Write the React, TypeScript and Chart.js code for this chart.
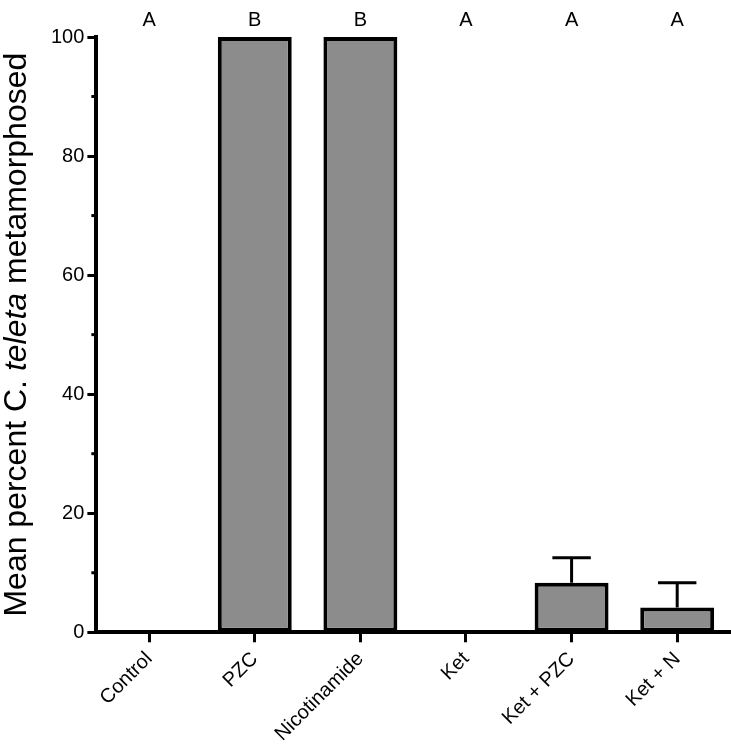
import React, { useEffect, useRef } from "react";
import { Chart, registerables } from "chart.js";

Chart.register(...registerables);

const categories = ["Control", "PZC", "Nicotinamide", "Ket", "Ket + PZC", "Ket + N"];
const meanPercent = [0, 100, 100, 0, 8.33, 4.17];
const semPercent = [0, 0, 0, 0, 4.17, 4.17];
const groupLetters = ["A", "B", "B", "A", "A", "A"];
const yMinorTicks = [10, 30, 50, 70, 90];
const yTitleParts = [
  { text: "Mean percent C. ", italic: false },
  { text: "teleta", italic: true },
  { text: " metamorphosed", italic: false },
];

const FONT = "'Liberation Sans', Arial, Helvetica, sans-serif";

const decorPlugin = {
  id: "decor",
  afterDatasetsDraw(chart: any) {
    const ctx = chart.ctx;
    const xs = chart.scales.x;
    const ys = chart.scales.y;
    const meta = chart.getDatasetMeta(0);
    ctx.save();
    ctx.strokeStyle = "#000";
    ctx.lineWidth = 3;
    meanPercent.forEach((m, i) => {
      const s = semPercent[i];
      if (!s) return;
      const px = xs.getPixelForValue(i);
      const y0 = ys.getPixelForValue(m);
      const y1 = ys.getPixelForValue(m + s);
      const half = meta.data[i].width * 0.26;
      ctx.beginPath();
      ctx.moveTo(px, y0);
      ctx.lineTo(px, y1);
      ctx.moveTo(px - half, y1);
      ctx.lineTo(px + half, y1);
      ctx.stroke();
    });
    ctx.restore();
  },
  afterDraw(chart: any) {
    const ctx = chart.ctx;
    const xs = chart.scales.x;
    const ys = chart.scales.y;
    const area = chart.chartArea;
    ctx.save();
    // minor ticks
    ctx.strokeStyle = "#000";
    ctx.lineWidth = 3;
    yMinorTicks.forEach((v) => {
      const py = ys.getPixelForValue(v);
      ctx.beginPath();
      ctx.moveTo(area.left - 5, py);
      ctx.lineTo(area.left, py);
      ctx.stroke();
    });
    // group letters
    ctx.fillStyle = "#000";
    ctx.font = `20px ${FONT}`;
    ctx.textAlign = "center";
    ctx.textBaseline = "alphabetic";
    groupLetters.forEach((l, i) => {
      ctx.fillText(l, xs.getPixelForValue(i), 26);
    });
    // y title with italic part
    const cy = (area.top + area.bottom) / 2;
    ctx.translate(26, cy);
    ctx.rotate(-Math.PI / 2);
    ctx.textAlign = "left";
    const fonts = yTitleParts.map((p) => `${p.italic ? "italic " : ""}32px ${FONT}`);
    let total = 0;
    const widths = yTitleParts.map((p, i) => {
      ctx.font = fonts[i];
      const w = ctx.measureText(p.text).width;
      total += w;
      return w;
    });
    let x = -total / 2;
    yTitleParts.forEach((p, i) => {
      ctx.font = fonts[i];
      ctx.fillText(p.text, x, 0);
      x += widths[i];
    });
    ctx.restore();
  },
};

export default function App() {
  const canvasRef = useRef<HTMLCanvasElement | null>(null);

  useEffect(() => {
    if (!canvasRef.current) return;
    const chart = new Chart(canvasRef.current, {
      type: "bar",
      data: {
        labels: categories,
        datasets: [
          {
            data: meanPercent,
            backgroundColor: "#8c8c8c",
            borderColor: "#000",
            borderWidth: 4,
            borderSkipped: false,
            barPercentage: 0.7,
            categoryPercentage: 1,
          },
        ],
      },
      options: {
        animation: false,
        responsive: true,
        maintainAspectRatio: false,
        layout: { padding: { left: 48, top: 37, right: 1, bottom: 0 } },
        plugins: {
          legend: { display: false },
          tooltip: { enabled: false },
          title: { display: false },
        },
        scales: {
          x: {
            offset: true,
            grid: {
              offset: false,
              drawOnChartArea: false,
              drawTicks: true,
              tickLength: 10,
              tickWidth: 3,
              tickColor: "#000",
            },
            border: { display: true, color: "#000", width: 4 },
            ticks: {
              color: "#000",
              font: { family: FONT, size: 20 },
              maxRotation: 45,
              minRotation: 45,
              padding: 5,
              autoSkip: false,
            },
          },
          y: {
            min: 0,
            max: 100,
            grid: {
              drawOnChartArea: false,
              drawTicks: true,
              tickLength: 9,
              tickWidth: 3,
              tickColor: "#000",
            },
            border: { display: true, color: "#000", width: 4 },
            ticks: {
              stepSize: 20,
              color: "#000",
              font: { family: FONT, size: 20 },
              padding: 3,
            },
          },
        },
      },
      plugins: [decorPlugin],
    });
    return () => chart.destroy();
  }, []);

  return (
    <div style={{ position: "absolute", left: 0, top: 0, width: 731, height: 751, background: "#fff" }}>
      <canvas ref={canvasRef} />
    </div>
  );
}
